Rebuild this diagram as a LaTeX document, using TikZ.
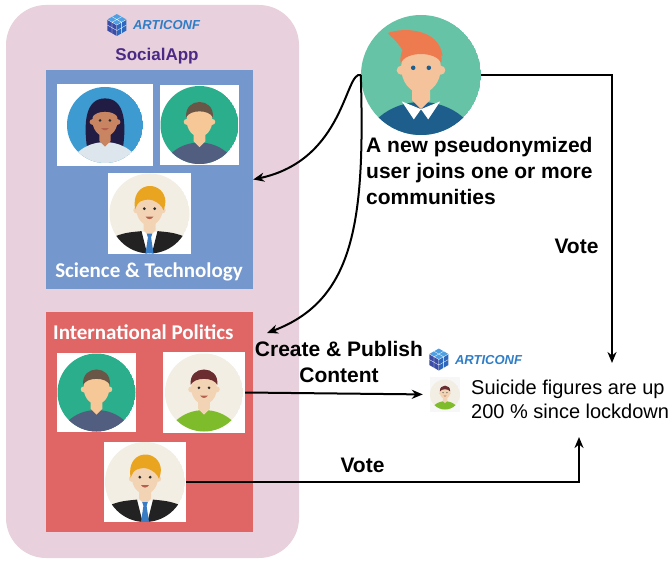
\documentclass[tikz,border=0pt]{standalone}
\usepackage{fontspec}
\setmainfont{Liberation Sans}
\newfontfamily\calibri{Carlito}
\usetikzlibrary{arrows.meta,calc,positioning}

\definecolor{appbg}{HTML}{E8D1DC}
\definecolor{scibg}{HTML}{7497CD}
\definecolor{polbg}{HTML}{E06666}
\definecolor{apptitle}{HTML}{4B2A85}
\definecolor{logoblue}{HTML}{2F7DC6}
\definecolor{cubetop}{HTML}{4FA0E2}
\definecolor{cubeleft}{HTML}{3B4CA6}
\definecolor{cuberight}{HTML}{2C69BE}
\definecolor{skylight}{HTML}{3E9BD2}
\definecolor{mint}{HTML}{2AAE8B}
\definecolor{tealbg}{HTML}{67C3A6}
\definecolor{cream}{HTML}{F3EEE4}
\definecolor{skindark}{HTML}{C98461}
\definecolor{skinpale}{HTML}{F6C898}
\definecolor{skinlight}{HTML}{F2D4B5}
\definecolor{skinpeach}{HTML}{F4C39C}
\definecolor{hairnavy}{HTML}{211C44}
\definecolor{hairbrown}{HTML}{6A5647}
\definecolor{hairblond}{HTML}{E9A520}
\definecolor{hairmaroon}{HTML}{6B2D30}
\definecolor{hairred}{HTML}{EE7B50}
\definecolor{topwhite}{HTML}{DCE6EC}
\definecolor{shirtgrey}{HTML}{525E7F}
\definecolor{shirtgreen}{HTML}{7FBC2C}
\definecolor{sweater}{HTML}{1D5E8D}
\definecolor{suit}{HTML}{222222}
\definecolor{tie}{HTML}{3B7DC4}
\definecolor{eyes}{HTML}{2B2B2B}
\definecolor{lips}{HTML}{B5604E}

\tikzset{%
	app/.style       = {fill=appbg, rounded corners=40pt, minimum width=293pt, minimum height=553pt},
	community/.style = {minimum width=207pt, inner sep=0pt},
	photo/.style     = {fill=white, inner sep=0pt},
	actiontext/.style= {font=\bfseries\fontsize{21}{26}\selectfont, inner sep=0pt},
	boxtitle/.style  = {text=white, font=\calibri\bfseries\fontsize{21}{25}\selectfont, inner sep=0pt},
	logotext/.style  = {text=logoblue, font=\bfseries\itshape\fontsize{13}{15}\selectfont, inner sep=0pt},
	arrow/.style     = {line width=2pt,->,>={Stealth[length=11pt,width=9pt,inset=3.5pt]}},
}

% round avatar: node, radius, background, skin, hair, shirt, behind, front
\newcommand\person[8]{%
	\begin{scope}[shift={(#1.center)},scale=#2,yscale=-1]
		\clip (0,0) circle (1);
		\fill[#3] (0,0) circle (1);
		#7
		\fill[#6] (0,-1.3) ellipse (0.98 and 0.85);
		\fill[#4] (-0.15,-0.1) -- (-0.15,-0.42) -- (0,-0.57) -- (0.15,-0.42) -- (0.15,-0.1) -- cycle;
		\fill[#4] (0,0.12) ellipse (0.33 and 0.42) (-0.33,0.08) circle (0.075) (0.33,0.08) circle (0.075);
		\fill[#5] (-0.34,0.2) .. controls (-0.4,0.72) and (0.4,0.72) .. (0.34,0.2) .. controls (0.24,0.4) and (-0.24,0.4) .. (-0.34,0.2) -- cycle;
		#8
	\end{scope}}
\newcommand\faceeyes[1][eyes]{\fill[#1] (-0.13,0.12) circle (0.038) (0.13,0.12) circle (0.038);}
\newcommand\grin{\fill[lips] (-0.1,-0.08) .. controls (-0.04,-0.16) and (0.04,-0.16) .. (0.1,-0.08) -- cycle;}
\newcommand\suitman{%
	\fill[suit] (-1,-1) -- (-0.95,-0.6) .. controls (-0.6,-0.48) .. (-0.2,-0.44) -- (-0.06,-1) -- cycle;
	\fill[suit] (1,-1) -- (0.95,-0.6) .. controls (0.6,-0.48) .. (0.2,-0.44) -- (0.06,-1) -- cycle;
	\fill[tie] (-0.07,-0.5) -- (0.07,-0.5) -- (0.04,-0.6) -- (0.1,-1) -- (-0.1,-1) -- (-0.04,-0.6) -- cycle;
	\fill[hairblond] (-0.36,0.1) .. controls (-0.48,0.8) and (0.28,0.85) .. (0.39,0.38) .. controls (0.41,0.27) and (0.38,0.15) .. (0.35,0.08) .. controls (0.27,0.32) and (-0.1,0.42) .. (-0.22,0.33) .. controls (-0.28,0.28) and (-0.32,0.2) .. cycle;
	\faceeyes\grin}
% hexagon cube left of a logo text node
\newcommand\logocube[2]{%
	\begin{scope}[shift={([xshift=-16pt]#1.west)},scale=#2,yscale=-1]
		\fill[cubetop] (0,0) -- (0.87,0.5) -- (0,1) -- (-0.87,0.5) -- cycle;
		\fill[cubeleft] (0,0) -- (-0.87,0.5) -- (-0.87,-0.5) -- (0,-1) -- cycle;
		\fill[cuberight] (0,0) -- (0,-1) -- (0.87,-0.5) -- (0.87,0.5) -- cycle;
		\draw[white, line width=0.3pt] (0,0) -- (0,-1) (0,0) -- (0.87,0.5) (0,0) -- (-0.87,0.5)
			(-0.435,0.25) -- (0.435,0.75) (0.435,0.25) -- (-0.435,0.75)
			(-0.435,0.25) -- (-0.435,-0.75) (0,-0.5) -- (-0.87,0)
			(0.435,0.25) -- (0.435,-0.75) (0,-0.5) -- (0.87,0);
	\end{scope}}

\begin{document}
\begin{tikzpicture}[x=1pt,y=-1pt]
	\useasboundingbox (0,0) rectangle (671,561);

	% the app with its two communities
	\node[app] (socialapp) at (152.5,281.5) {};
	\node[logotext, anchor=base] (logotop) at (166.5,29.5) {ARTICONF};
	\logocube{logotop}{11}
	\node[anchor=base, text=apptitle, font=\bfseries\fontsize{17}{20}\selectfont, inner sep=0pt] (appname) at (157,61) {SocialApp};

	\node[community, fill=scibg, minimum height=219pt] (sci) at (149.5,179.5) {};
	\node[community, fill=polbg, minimum height=220pt] (pol) at (149.5,422) {};
	\node[boxtitle, anchor=base] (scititle) at (149,277) {Science \& Technology};
	\node[boxtitle, anchor=base west] (poltitle) at (53,339) {International Politics};

	% members
	\node[photo, minimum width=96pt, minimum height=82pt] (sci1) at (105,125) {};
	\person{sci1}{38}{skylight}{skindark}{hairnavy}{topwhite}{\fill[hairnavy] (-0.47,-0.62) .. controls (-0.56,0) and (-0.54,0.7) .. (0,0.7) .. controls (0.54,0.7) and (0.56,0) .. (0.47,-0.62) -- cycle;}{\faceeyes\grin}
	\node[photo, minimum width=79pt, minimum height=80pt] (sci2) at (199.5,125) {};
	\person{sci2}{39}{mint}{skinpale}{hairbrown}{shirtgrey}{}{}
	\node[photo, minimum width=83pt, minimum height=81pt] (sci3) at (149.5,213.5) {};
	\person{sci3}{40}{cream}{skinlight}{hairblond}{white}{}{\suitman}

	\node[photo, minimum width=79pt, minimum height=79pt] (pol1) at (96.5,392.5) {};
	\person{pol1}{39}{mint}{skinpale}{hairbrown}{shirtgrey}{}{}
	\node[photo, minimum width=82pt, minimum height=81pt] (pol2) at (204,392.5) {};
	\person{pol2}{39}{cream}{skinlight}{hairmaroon}{shirtgreen}{}{\faceeyes\grin}
	\node[photo, minimum width=82pt, minimum height=80pt] (pol3) at (145,482) {};
	\person{pol3}{40}{cream}{skinlight}{hairblond}{white}{}{\suitman}

	% the newcomer
	\node[circle, minimum size=120pt, inner sep=0pt] (newuser) at (421,75) {};
	\person{newuser}{60}{tealbg}{skinpeach}{hairred}{sweater}{}{%
		\fill[white] (-0.32,-0.44) -- (0,-0.57) -- (-0.12,-0.74) -- cycle;
		\fill[white] (0.32,-0.44) -- (0,-0.57) -- (0.12,-0.74) -- cycle;
		\fill[hairred] (-0.3,0.4) .. controls (-0.42,0.6) and (-0.5,0.62) .. (-0.55,0.7) .. controls (-0.3,0.8) and (0.3,0.78) .. (0.36,0.32) -- cycle;
		\faceeyes[sweater]}
	\node[actiontext, anchor=north west, align=left] (joins) at (366,137) {A new pseudonymized\\user joins one or more\\communities};

	% the published post
	\node[logotext, anchor=base] (logopost) at (488.5,364) {ARTICONF};
	\logocube{logopost}{11}
	\node[photo, fill=gray!6, minimum width=30pt, minimum height=35pt] (author) at (445,394.5) {};
	\person{author}{15}{cream}{skinlight}{hairmaroon}{shirtgreen}{}{\faceeyes\grin}
	\node[anchor=north west, align=left, font=\fontsize{20}{24}\selectfont, inner sep=0pt] (post) at (471,379.5) {Suicide figures are up\\200 \% since lockdown};

	% joining, publishing and voting
	\coordinate (poljoin) at (267,333);
	\coordinate (upvote) at (612,363);
	\coordinate (downvote) at (579,437);
	\draw[arrow] (newuser.west) .. controls (345,70) and (345,160) .. (sci.east);
	\draw[arrow] (newuser.west) .. controls (365,220) and (355,300) .. (poljoin);
	\draw[arrow] (newuser.east) -| (upvote);
	\draw[arrow, shorten >=7pt] (pol2.east) -- (author.west);
	\draw[arrow] (pol3.east) -| (downvote);
	\node[actiontext, anchor=north, align=center] (publish) at (339,341) {Create \& Publish\\Content};
	\node[actiontext, anchor=base] (voteup) at (576.5,253) {Vote};
	\node[actiontext, anchor=base] (votedown) at (362.5,472) {Vote};
\end{tikzpicture}
\end{document}
